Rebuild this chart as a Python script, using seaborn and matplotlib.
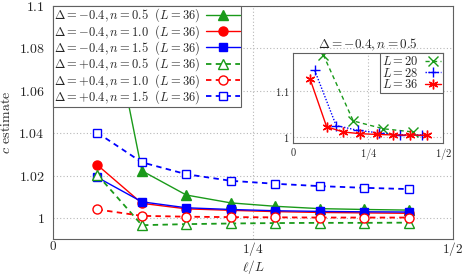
import numpy as np
import pandas as pd
import matplotlib
matplotlib.use("Agg")
import matplotlib.pyplot as plt
import seaborn as sns

# ---------------- data ----------------
ell = [2, 4, 6, 8, 10, 12, 14, 16]
L_main = 36
neg_n05 = [1.127, 1.0224, 1.0110, 1.0073, 1.0057, 1.0046, 1.0042, 1.0039]
neg_n10 = [1.0251, 1.0071, 1.0045, 1.0038, 1.0032, 1.0028, 1.0026, 1.0024]
neg_n15 = [1.0193, 1.0078, 1.0050, 1.0042, 1.0036, 1.0033, 1.0031, 1.0030]
pos_n05 = [1.0205, 0.9968, 0.9973, 0.9976, 0.9978, 0.9979, 0.9979, 0.9980]
pos_n10 = [1.0042, 1.0012, 1.0008, 1.0006, 1.0005, 1.0004, 1.0004, 1.0004]
pos_n15 = [1.0403, 1.0264, 1.0208, 1.0177, 1.0163, 1.0152, 1.0144, 1.0138]
main_labels = [
    r"$\Delta=-0.4, n=0.5\ \ (L=36)$",
    r"$\Delta=-0.4, n=1.0\ \ (L=36)$",
    r"$\Delta=-0.4, n=1.5\ \ (L=36)$",
    r"$\Delta=+0.4, n=0.5\ \ (L=36)$",
    r"$\Delta=+0.4, n=1.0\ \ (L=36)$",
    r"$\Delta=+0.4, n=1.5\ \ (L=36)$",
]

# inset (Delta=-0.4, n=0.5)
ell_L20 = [2, 4, 6, 8]
c_L20 = [1.179, 1.035, 1.018, 1.011]
ell_L28 = [2, 4, 6, 8, 10, 12]
c_L28 = [1.145, 1.025, 1.0147, 1.009, 1.005, 1.0045]
ell_L36 = ell
c_L36 = neg_n05
inset_labels = [r"$L=20$", r"$L=28$", r"$L=36$"]

xticks = [0, 0.25, 0.5]
xtick_labels = [r"$0$", r"$1/4$", r"$1/2$"]
yticks = [1.0, 1.02, 1.04, 1.06, 1.08, 1.1]
ytick_labels = [r"$1$", r"$1.02$", r"$1.04$", r"$1.06$", r"$1.08$", r"$1.1$"]
in_yticks = [1.0, 1.1]
in_ytick_labels = [r"$1$", r"$1.1$"]

# ---------------- style ----------------
sns.set_style("white")
plt.rcParams.update({
    "mathtext.fontset": "cm",
    "font.family": "serif",
    "font.serif": ["cmr10", "DejaVu Serif"],
    "axes.formatter.use_mathtext": True,
})

GREEN = "#1a9a1a"
RED = "#ff0000"
BLUE = "#0000ff"
SPINE = "#606060"
GRID = "#b8b8b8"

fig = plt.figure(figsize=(4.63, 2.76), dpi=100)
W, H = 463, 276
ax = fig.add_axes([53 / W, 1 - 239 / H, 400 / W, 233 / H])

specs = [
    (neg_n05, GREEN, "solid", "^", True),
    (neg_n10, RED, "solid", "o", True),
    (neg_n15, BLUE, "solid", "s", True),
    (pos_n05, GREEN, "dashed", "^", False),
    (pos_n10, RED, "dashed", "o", False),
    (pos_n15, BLUE, "dashed", "s", False),
]
handles = []
for (vals, col, ls, mk, filled), lab in zip(specs, main_labels):
    df = pd.DataFrame({"x": np.array(ell) / L_main, "y": vals})
    n_before = len(ax.lines)
    sns.lineplot(data=df, x="x", y="y", ax=ax, color=col, marker=mk,
                 markersize=6.5 if mk != "s" else 5.5,
                 markerfacecolor=col if filled else "white",
                 markeredgecolor=col, markeredgewidth=1.0,
                 linewidth=1.0 if ls == "solid" else 1.3,
                 legend=False, errorbar=None, sort=True)
    ln = ax.lines[n_before]
    if ls == "dashed":
        ln.set_dashes((3.0, 2.4))
    ln.set_label(lab)
    handles.append(ln)

ax.set_xlim(0, 0.5)
ax.set_ylim(0.9903, 1.1)
ax.set_xticks(xticks)
ax.set_xticklabels(xtick_labels)
ax.set_yticks(yticks)
ax.set_yticklabels(ytick_labels)
ax.tick_params(axis="both", length=3, direction="in", color=SPINE, width=0.6)
ax.tick_params(axis="x", pad=1, labelsize=9.5)
ax.tick_params(axis="y", pad=6, labelsize=10)
ax.grid(True, linestyle=(0, (1, 2)), color=GRID, linewidth=0.8)
for s in ax.spines.values():
    s.set_color(SPINE)
    s.set_linewidth(0.8)
ax.set_xlabel(r"$\ell/L$", fontsize=9.5, labelpad=0)
ax.set_ylabel(r"$c$ estimate", fontsize=10, labelpad=4)

leg = ax.legend(handles=handles, labels=main_labels, loc="upper left",
                bbox_to_anchor=(0, 1), borderaxespad=0, markerfirst=False,
                fancybox=False, framealpha=1, edgecolor=SPINE, fontsize=9.0,
                handlelength=2.7, handletextpad=0.5, labelspacing=-0.12,
                borderpad=0.06)
leg.get_frame().set_linewidth(0.8)

# ---------------- inset ----------------
axi = fig.add_axes([293.3 / W, 1 - 143 / H, 150 / W, 90 / H])
axi.set_facecolor("white")
in_specs = [
    (ell_L20, 20, c_L20, GREEN, "dashed", "x"),
    (ell_L28, 28, c_L28, BLUE, "dotted", "+"),
    (ell_L36, 36, c_L36, RED, "solid", (6, 2, 0)),
]
ihandles = []
for (el, L, vals, col, ls, mk), lab in zip(in_specs, inset_labels):
    df = pd.DataFrame({"x": np.array(el) / L, "y": vals})
    n_before = len(axi.lines)
    sns.lineplot(data=df, x="x", y="y", ax=axi, color=col, marker=mk,
                 markersize=7, markeredgecolor=col, markeredgewidth=1.0,
                 linewidth=1.0, legend=False, errorbar=None)
    ln = axi.lines[n_before]
    if ls == "dashed":
        ln.set_dashes((3.0, 2.4))
    elif ls == "dotted":
        ln.set_dashes((1.0, 1.2))
    ln.set_label(lab)
    ihandles.append(ln)

axi.set_xlim(0, 0.5)
axi.set_ylim(0.987, 1.183)
axi.set_xticks(xticks)
axi.set_xticklabels(xtick_labels)
axi.set_yticks(in_yticks)
axi.set_yticklabels(in_ytick_labels)
axi.tick_params(axis="both", labelsize=7.5, length=2.5, direction="in",
                color=SPINE, width=0.6, pad=2.5)
axi.grid(True, linestyle=(0, (1, 2)), color=GRID, linewidth=0.8)
for s in axi.spines.values():
    s.set_color(SPINE)
    s.set_linewidth(0.8)
axi.set_xlabel("")
axi.set_ylabel("")
axi.set_title(r"$\Delta=-0.4, n=0.5$", fontsize=9.5, pad=3)
ileg = axi.legend(handles=ihandles, labels=inset_labels, loc="upper right",
                  borderaxespad=0, markerfirst=False, fancybox=False,
                  framealpha=1, edgecolor=SPINE, fontsize=9,
                  handlelength=1.3, handletextpad=0.5, labelspacing=-0.1,
                  borderpad=0.15)
ileg.get_frame().set_linewidth(0.8)

fig.savefig("out.png", dpi=100)
